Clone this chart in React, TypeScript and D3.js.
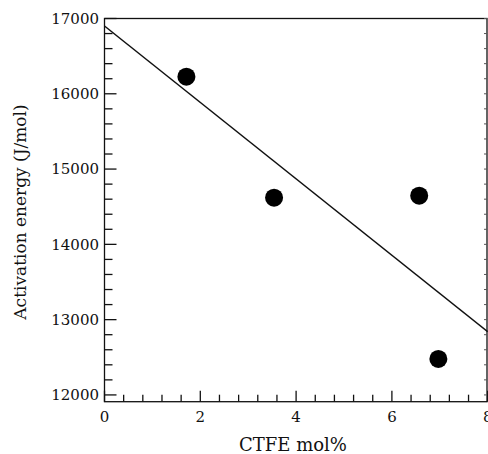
import React, { useEffect, useRef } from "react";
import * as d3 from "d3";

const ctfe = [1.71, 3.54, 6.57, 6.97];
const energy = [16227, 14620, 14647, 12478];
const fitX = [0, 8];
const fitY = [16900, 12840];
const xTicks = [0, 2, 4, 6, 8];
const yTicks = [12000, 13000, 14000, 15000, 16000, 17000];

export default function App() {
  const ref = useRef<SVGSVGElement>(null);

  useEffect(() => {
    const width = 488;
    const height = 454;
    const left = 104.5;
    const right = 487;
    const top = 18.5;
    const bottom = 401.7;
    const font = "'DejaVu Serif', 'Liberation Serif', serif";

    const svg = d3.select(ref.current);
    svg.selectAll("*").remove();
    svg.attr("width", width).attr("height", height);

    const x = d3.scaleLinear().domain([0, 8]).range([left, left + 8 * 47.9]);
    const y = d3.scaleLinear().domain([11910, 17000]).range([bottom, top]);

    // frame
    svg
      .append("rect")
      .attr("x", left)
      .attr("y", top)
      .attr("width", right - left)
      .attr("height", bottom - top)
      .attr("fill", "none")
      .attr("stroke", "#111")
      .attr("stroke-width", 1.3);

    // x ticks, every 0.4, major at even numbers
    const xMinor = d3.range(0, 8.001, 0.4);
    svg
      .selectAll("line.xt")
      .data(xMinor)
      .join("line")
      .attr("x1", (d) => x(d))
      .attr("x2", (d) => x(d))
      .attr("y1", bottom)
      .attr("y2", (d) => bottom - (Math.abs(d / 2 - Math.round(d / 2)) < 1e-6 ? 11 : 7))
      .attr("stroke", "#111")
      .attr("stroke-width", 1.3);

    // y ticks, every 200, major at thousands
    const yMinor = d3.range(12000, 17001, 200);
    svg
      .selectAll("line.yt")
      .data(yMinor)
      .join("line")
      .attr("x1", left)
      .attr("x2", (d) => left + (d % 1000 === 0 ? 12 : 8))
      .attr("y1", (d) => y(d))
      .attr("y2", (d) => y(d))
      .attr("stroke", "#111")
      .attr("stroke-width", 1.3);

    // small ticks on the right side
    svg
      .selectAll("line.yr")
      .data(yMinor)
      .join("line")
      .attr("x1", right)
      .attr("x2", right - 3)
      .attr("y1", (d) => y(d))
      .attr("y2", (d) => y(d))
      .attr("stroke", "#555")
      .attr("stroke-width", 1);

    svg
      .selectAll("text.xl")
      .data(xTicks)
      .join("text")
      .attr("x", (d) => x(d))
      .attr("y", 422)
      .attr("text-anchor", "middle")
      .style("font-family", font)
      .style("font-size", "15px")
      .attr("fill", "#111")
      .text((d) => d);

    svg
      .selectAll("text.yl")
      .data(yTicks)
      .join("text")
      .attr("x", 99)
      .attr("y", (d) => y(d))
      .attr("dy", "0.36em")
      .attr("text-anchor", "end")
      .style("font-family", font)
      .style("font-size", "15px")
      .attr("fill", "#111")
      .text((d) => d);

    // fitted line, clipped to the frame
    svg
      .append("line")
      .attr("x1", x(fitX[0]))
      .attr("y1", y(fitY[0]))
      .attr("x2", x(fitX[1]))
      .attr("y2", y(fitY[1]))
      .attr("stroke", "#111")
      .attr("stroke-width", 1.5);

    svg
      .selectAll("circle")
      .data(ctfe)
      .join("circle")
      .attr("cx", (d) => x(d))
      .attr("cy", (_, i) => y(energy[i]))
      .attr("r", 9)
      .attr("fill", "#000");

    svg
      .append("text")
      .attr("x", 293)
      .attr("y", 451)
      .attr("text-anchor", "middle")
      .style("font-family", font)
      .style("font-size", "18px")
      .attr("fill", "#111")
      .text("CTFE mol%");

    svg
      .append("text")
      .attr("transform", `translate(26, 212) rotate(-90)`)
      .attr("text-anchor", "middle")
      .style("font-family", font)
      .style("font-size", "17px")
      .attr("fill", "#111")
      .text("Activation energy (J/mol)");
  }, []);

  return (
    <svg
      ref={ref}
      style={{ position: "absolute", left: 0, top: 0, background: "#fff" }}
    ></svg>
  );
}
